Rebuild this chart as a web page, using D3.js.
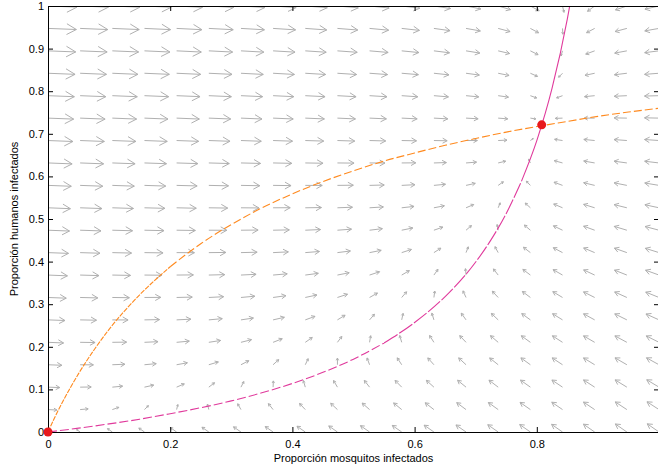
<!DOCTYPE html>
<html>
<head>
<meta charset="utf-8">
<script src="https://cdn.jsdelivr.net/npm/d3@7"></script>
<style>
  html, body { margin: 0; padding: 0; background: #fff; }
  svg { display: block; font-family: "Liberation Sans", Arial, sans-serif; }
</style>
</head>
<body>
<svg id="chart" width="658" height="470"></svg>
<script>
// ---------- data ----------
const xTicks = [0, 0.2, 0.4, 0.6, 0.8];
const yTicks = [0, 0.1, 0.2, 0.3, 0.4, 0.5, 0.6, 0.7, 0.8, 0.9, 1];
const xLabel = "Proporción mosquitos infectados";
const yLabel = "Proporción humanos infectados";

// quiver grid (20 x 20 points)
const gridX = [0, 0.0526, 0.1053, 0.1579, 0.2105, 0.2632, 0.3158, 0.3684, 0.4211, 0.4737,
               0.5263, 0.5789, 0.6316, 0.6842, 0.7368, 0.7895, 0.8421, 0.8947, 0.9474, 1];
const gridY = gridX.slice();

// field components (x100), rows = gridY (bottom -> top), columns = gridX
const fieldU = [
  [0,-5,-11,-16,-21,-26,-32,-37,-42,-47,-53,-58,-63,-68,-74,-79,-84,-89,-95,-100],
  [30,23,16,9,3,-4,-11,-18,-25,-32,-38,-45,-52,-59,-66,-73,-79,-86,-93,-100],
  [60,51,43,35,26,18,9,1,-7,-16,-24,-33,-41,-50,-58,-66,-75,-83,-92,-100],
  [90,80,70,60,50,40,30,20,10,0,-10,-20,-30,-40,-50,-60,-70,-80,-90,-100],
  [120,108,96,85,73,62,50,39,27,16,4,-8,-19,-31,-42,-54,-65,-77,-88,-100],
  [149,136,123,110,97,84,71,58,44,31,18,5,-8,-21,-34,-48,-61,-74,-87,-100],
  [179,165,150,135,121,106,91,76,62,47,32,18,3,-12,-26,-41,-56,-71,-85,-100],
  [209,193,177,160,144,128,112,95,79,63,46,30,14,-2,-19,-35,-51,-67,-84,-100],
  [239,221,203,186,168,150,132,114,96,78,61,43,25,7,-11,-29,-46,-64,-82,-100],
  [269,250,230,211,191,172,153,133,114,94,75,55,36,17,-3,-22,-42,-61,-81,-100],
  [299,278,257,236,215,194,173,152,131,110,89,68,47,26,5,-16,-37,-58,-79,-100],
  [329,306,284,261,239,216,193,171,148,126,103,81,58,35,13,-10,-32,-55,-77,-100],
  [359,335,310,286,262,238,214,190,166,141,117,93,69,45,21,-3,-28,-52,-76,-100],
  [389,363,337,311,286,260,234,209,183,157,131,106,80,54,29,3,-23,-49,-74,-100],
  [419,391,364,337,309,282,255,228,200,173,146,118,91,64,36,9,-18,-45,-73,-100],
  [448,420,391,362,333,304,275,246,218,189,160,131,102,73,44,15,-13,-42,-71,-100],
  [478,448,417,387,357,326,296,265,235,204,174,144,113,83,52,22,-9,-39,-70,-100],
  [508,476,444,412,380,348,316,284,252,220,188,156,124,92,60,28,-4,-36,-68,-100],
  [538,505,471,437,404,370,337,303,269,236,202,169,135,102,68,34,1,-33,-66,-100],
  [568,533,498,463,427,392,357,322,287,252,216,181,146,111,76,41,5,-30,-65,-100]
];
const fieldV = [
  [0,5,11,16,21,26,32,37,42,47,53,58,63,68,74,79,84,89,95,100],
  [-2,3,8,13,18,23,28,33,38,43,48,53,58,63,68,73,78,83,88,93],
  [-3,1,6,11,16,20,25,30,34,39,44,48,53,58,63,67,72,77,81,86],
  [-5,-1,4,8,13,17,22,26,30,35,39,44,48,53,57,62,66,70,75,79],
  [-7,-2,2,6,10,14,18,22,27,31,35,39,43,47,52,56,60,64,68,72],
  [-8,-4,-1,3,7,11,15,19,23,27,30,34,38,42,46,50,54,58,62,65],
  [-10,-6,-3,1,4,8,12,15,19,22,26,30,33,37,40,44,48,51,55,58],
  [-12,-8,-5,-2,2,5,8,12,15,18,22,25,28,32,35,38,42,45,48,52],
  [-13,-10,-7,-4,-1,2,5,8,11,14,17,20,23,26,29,32,35,39,42,45],
  [-15,-12,-9,-7,-4,-1,2,4,7,10,13,16,18,21,24,27,29,32,35,38],
  [-17,-14,-12,-9,-7,-4,-2,1,3,6,8,11,13,16,18,21,23,26,28,31],
  [-18,-16,-14,-12,-9,-7,-5,-3,-1,2,4,6,8,11,13,15,17,19,22,24],
  [-20,-18,-16,-14,-12,-10,-8,-6,-4,-2,-1,1,3,5,7,9,11,13,15,17],
  [-22,-20,-18,-17,-15,-13,-12,-10,-8,-7,-5,-3,-2,0,2,3,5,7,8,10],
  [-23,-22,-20,-19,-18,-16,-15,-14,-12,-11,-9,-8,-7,-5,-4,-2,-1,0,2,3],
  [-25,-24,-23,-22,-20,-19,-18,-17,-16,-15,-14,-13,-12,-10,-9,-8,-7,-6,-5,-4],
  [-27,-26,-25,-24,-23,-22,-22,-21,-20,-19,-18,-17,-17,-16,-15,-14,-13,-12,-12,-11],
  [-28,-28,-27,-27,-26,-25,-25,-24,-24,-23,-23,-22,-22,-21,-20,-20,-19,-19,-18,-18],
  [-30,-30,-29,-29,-29,-28,-28,-28,-28,-27,-27,-27,-27,-26,-26,-26,-25,-25,-25,-25],
  [-32,-32,-32,-32,-32,-32,-32,-32,-32,-32,-32,-32,-32,-32,-32,-32,-32,-32,-32,-32]
];

// human nullcline (orange)
const orangeX = [0, 0.01, 0.02, 0.035, 0.05, 0.075, 0.1, 0.15, 0.2, 0.25, 0.3, 0.35, 0.4, 0.45,
                 0.5, 0.55, 0.6, 0.65, 0.7, 0.75, 0.8, 0.85, 0.9, 0.95, 1.0];
const orangeY = [0, 0.031, 0.060, 0.100, 0.137, 0.192, 0.241, 0.322, 0.388, 0.442, 0.487, 0.526,
                 0.559, 0.588, 0.613, 0.636, 0.655, 0.673, 0.689, 0.704, 0.717, 0.729, 0.741, 0.751, 0.760];
// mosquito nullcline (magenta)
const magentaX = [0, 0.05, 0.1, 0.15, 0.2, 0.25, 0.3, 0.35, 0.4, 0.45, 0.5, 0.55, 0.6, 0.65,
                  0.7, 0.725, 0.75, 0.775, 0.8, 0.825, 0.85, 0.855];
const magentaY = [0, 0.009, 0.019, 0.030, 0.043, 0.057, 0.073, 0.092, 0.114, 0.140, 0.171, 0.209,
                  0.257, 0.318, 0.399, 0.451, 0.513, 0.589, 0.684, 0.807, 0.970, 1.009];
// equilibria
const eqX = [0, 0.808];
const eqY = [0, 0.721];

// ---------- drawing ----------
const svg = d3.select("#chart");
const x = d3.scaleLinear().domain([0, 1]).range([48, 659]);
const y = d3.scaleLinear().domain([0, 1]).range([432, 6]);

svg.append("defs").append("clipPath").attr("id", "plotclip")
  .append("rect").attr("x", x(0)).attr("y", y(1)).attr("width", x(1) - x(0)).attr("height", y(0) - y(1));

const plot = svg.append("g").attr("clip-path", "url(#plotclip)");

// quiver arrows
const arrows = [];
gridY.forEach((gy, j) => {
  gridX.forEach((gx, i) => {
    const u = fieldU[j][i] / 100, v = fieldV[j][i] / 100;
    const m = Math.hypot(u, v);
    if (m === 0) return;
    const f = 0.0237 * Math.pow(m, -0.6);
    const x0 = x(gx), y0 = y(gy);
    const x1 = x(gx + u * f), y1 = y(gy + v * f);
    arrows.push({x0, y0, x1, y1});
  });
});
const arrowPath = d => {
  const dx = d.x1 - d.x0, dy = d.y1 - d.y0;
  const L = Math.hypot(dx, dy);
  const ux = dx / L, uy = dy / L;
  const hb = 0.34 * L, hs = 0.19 * L;
  const bx = d.x1 - ux * hb, by = d.y1 - uy * hb;
  return `M${d.x0},${d.y0}L${d.x1},${d.y1}` +
         `M${bx - uy * hs},${by + ux * hs}L${d.x1},${d.y1}L${bx + uy * hs},${by - ux * hs}`;
};
plot.append("g").selectAll("path").data(arrows).join("path")
  .attr("d", arrowPath)
  .attr("fill", "none")
  .attr("stroke", "#b0b0b0")
  .attr("stroke-width", 1);

// nullclines (steep parts drawn with tighter dashes, as in the original rendering)
const line = d3.line().x(d => x(d[0])).y(d => y(d[1])).curve(d3.curveMonotoneX);
const orangePts = orangeX.map((v, i) => [v, orangeY[i]]);
const magentaPts = magentaX.map((v, i) => [v, magentaY[i]]);
const pieces = [
  {pts: orangePts.slice(0, 9),  color: "#ff8a1f", dash: "5,1.2"},
  {pts: orangePts.slice(8),     color: "#ff8a1f", dash: "8,3"},
  {pts: magentaPts.slice(0, 12), color: "#e03a9c", dash: "9,3"},
  {pts: magentaPts.slice(11, 18), color: "#e03a9c", dash: "16,2"},
  {pts: magentaPts.slice(17),   color: "#e03a9c", dash: null}
];
pieces.forEach(p => {
  plot.append("path")
    .attr("d", line(p.pts))
    .attr("fill", "none").attr("stroke", p.color).attr("stroke-width", 1.1)
    .attr("stroke-dasharray", p.dash);
});

// axes (MATLAB-like box, ticks inward)
const styleAxis = g => {
  g.selectAll(".domain").attr("stroke", "#000").attr("stroke-width", 1);
  g.selectAll(".tick line").attr("stroke", "#000").attr("stroke-width", 1);
  g.selectAll("text").attr("fill", "#000").style("font-size", "11px")
    .style("font-family", '"Liberation Sans", Arial, sans-serif');
};
svg.append("g").attr("transform", `translate(0,${y(0)})`)
  .call(d3.axisBottom(x).tickValues(xTicks).tickSizeInner(-5).tickSizeOuter(0).tickPadding(8)
        .tickFormat(d3.format("~g")))
  .call(styleAxis);
svg.append("g").attr("transform", `translate(0,${y(1)})`)
  .call(d3.axisTop(x).tickValues(xTicks).tickSizeInner(-5).tickSizeOuter(0).tickFormat(""))
  .call(styleAxis);
svg.append("g").attr("transform", `translate(${x(0)},0)`)
  .call(d3.axisLeft(y).tickValues(yTicks).tickSizeInner(-5).tickSizeOuter(0).tickPadding(4)
        .tickFormat(d3.format("~g")))
  .call(styleAxis);
svg.append("g").attr("transform", `translate(${x(1)},0)`)
  .call(d3.axisRight(y).tickValues(yTicks).tickSizeInner(-5).tickSizeOuter(0).tickFormat(""))
  .call(styleAxis);

// equilibrium points
svg.append("g").selectAll("circle").data(eqX.map((v, i) => [v, eqY[i]])).join("circle")
  .attr("cx", d => x(d[0])).attr("cy", d => y(d[1])).attr("r", 4.5)
  .attr("fill", "#e8191c");

// axis labels
svg.append("text")
  .attr("x", (x(0) + x(1)) / 2).attr("y", 462)
  .attr("text-anchor", "middle").style("font-size", "11px").attr("fill", "#000")
  .text(xLabel);
svg.append("text")
  .attr("transform", `translate(18,${(y(0) + y(1)) / 2}) rotate(-90)`)
  .attr("text-anchor", "middle").style("font-size", "11px").attr("fill", "#000")
  .text(yLabel);
</script>
</body>
</html>
